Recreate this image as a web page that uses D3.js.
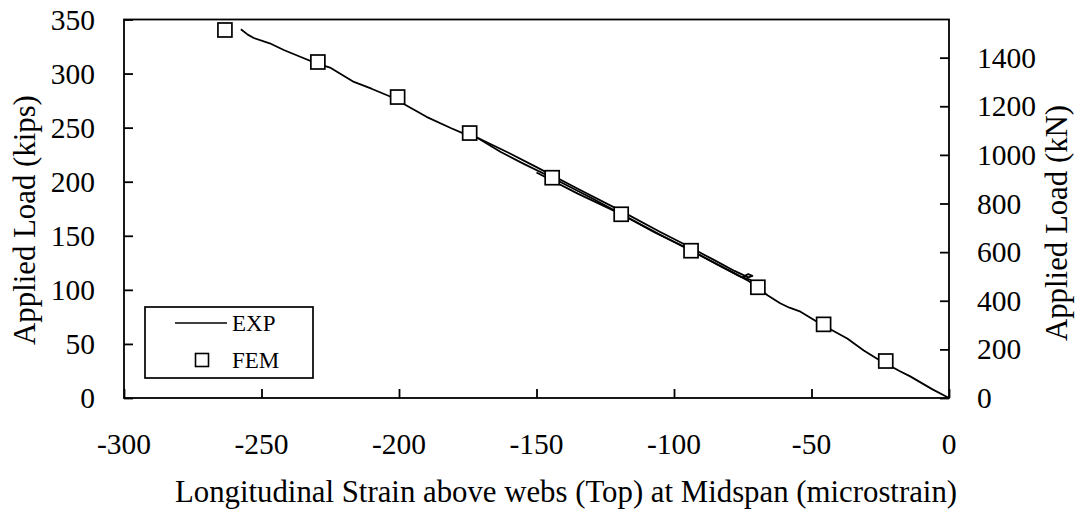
<!DOCTYPE html>
<html>
<head>
<meta charset="utf-8">
<script src="https://cdn.jsdelivr.net/npm/d3@7"></script>
<style>
  body { margin: 0; background: #fff; }
  svg { display: block; }
</style>
</head>
<body>
<svg id="chart" width="1075" height="512"></svg>
<script>
// strain (microstrain), load (kips)
const expMain = [
  [0, 0], [-6, 8], [-14.1, 20], [-18, 25], [-22, 30.5], [-26, 36], [-31, 44],
  [-37, 55], [-42, 62], [-48, 70.5], [-54, 79.8], [-58, 83.5], [-61.4, 87.6],
  [-66, 95], [-70, 103], [-73.4, 109], [-80, 118], [-93.8, 136.2], [-105, 151],
  [-119.2, 170], [-130, 185], [-144.3, 203.7], [-155, 217], [-163, 227.5],
  [-171.4, 240.4], [-176, 244], [-181.2, 249.7], [-190, 260], [-197.6, 271],
  [-203, 278.6], [-210, 286], [-216.4, 292.3], [-224.8, 305.2], [-230, 309.5],
  [-235.7, 315.3], [-241.9, 321.8], [-247, 328], [-252.8, 332.9], [-255, 336],
  [-257.5, 341]
];
const expCycleA = [
  [-175, 245], [-160, 226.5], [-150, 213.5], [-135, 193.5], [-120, 174],
  [-105, 153.5], [-95, 140.5], [-85, 127], [-78, 117.5], [-73, 111.5],
  [-71.5, 113], [-73, 114.5], [-75, 112]
];
const expCycleB = [
  [-150, 208.5], [-135, 189], [-120, 171], [-107, 153], [-94, 137],
  [-84, 123], [-76, 112.5], [-72, 109]
];
const femStrain = [-23, -45.6, -69.5, -93.8, -119.2, -144.3, -174.3, -200.5, -229.5, -263.3];
const femLoad = [34.2, 68.1, 102.4, 136.2, 169.9, 203.7, 245, 278.3, 310.7, 340.3];

const xTicks = [-300, -250, -200, -150, -100, -50, 0];
const kipsTicks = [0, 50, 100, 150, 200, 250, 300, 350];
const knTicks = [0, 200, 400, 600, 800, 1000, 1200, 1400];
const kipToKn = 4.448222;

const svg = d3.select("#chart");
const serif = "Liberation Serif";
const plotL = 124, plotR = 949, plotT = 19.5, plotB = 398;

const x = d3.scaleLinear().domain([-300, 0]).range([plotL, plotR]);
const y = d3.scaleLinear().domain([0, 350]).range([plotB, plotT]);
const yKn = d3.scaleLinear().domain([0, 350 * kipToKn]).range([plotB, plotT]);

const fs = 29.5;
const fsTitle = 30.8;

// frame
svg.append("rect")
  .attr("x", plotL).attr("y", plotT)
  .attr("width", plotR - plotL).attr("height", plotB - plotT)
  .attr("fill", "none").attr("stroke", "#000").attr("stroke-width", 1.8);

// axes with inward ticks
const xAxis = svg.append("g").attr("transform", `translate(0,${plotB})`)
  .call(d3.axisTop(x).tickValues(xTicks).tickSize(9).tickFormat(""));
const yAxis = svg.append("g").attr("transform", `translate(${plotL},0)`)
  .call(d3.axisRight(y).tickValues(kipsTicks).tickSize(9).tickFormat(""));
const yAxisR = svg.append("g").attr("transform", `translate(${plotR},0)`)
  .call(d3.axisLeft(yKn).tickValues(knTicks).tickSize(9).tickFormat(""));
[xAxis, yAxis, yAxisR].forEach((g) => {
  g.select(".domain").remove();
  g.selectAll("line").attr("stroke", "#000").attr("stroke-width", 1.8);
});

// tick labels
svg.selectAll(".xlab").data(xTicks).join("text")
  .attr("x", (d) => x(d)).attr("y", 454)
  .attr("text-anchor", "middle").attr("font-size", fs)
  .text((d) => d);
svg.selectAll(".ylab").data(kipsTicks).join("text")
  .attr("x", 95).attr("y", (d) => y(d))
  .attr("dy", "0.34em").attr("text-anchor", "end").attr("font-size", fs)
  .text((d) => d);
svg.selectAll(".yrlab").data(knTicks).join("text")
  .attr("x", 977).attr("y", (d) => yKn(d))
  .attr("dy", "0.34em").attr("text-anchor", "start").attr("font-size", fs)
  .text((d) => d);

// axis titles
svg.append("text")
  .attr("transform", "translate(25,220) rotate(-90)")
  .attr("text-anchor", "middle").attr("dominant-baseline", "central")
  .attr("font-size", fsTitle).text("Applied Load (kips)");
svg.append("text")
  .attr("transform", "translate(1057,223) rotate(-90)")
  .attr("text-anchor", "middle").attr("dominant-baseline", "central")
  .attr("font-size", fsTitle).text("Applied Load (kN)");
svg.append("text")
  .attr("x", 566).attr("y", 502)
  .attr("text-anchor", "middle").attr("font-size", fsTitle)
  .text("Longitudinal Strain above webs (Top) at Midspan (microstrain)");

// EXP curves
const line = d3.line().x((d) => x(d[0])).y((d) => y(d[1]));
[expMain, expCycleA, expCycleB].forEach((s) => {
  svg.append("path").datum(s)
    .attr("d", line).attr("fill", "none")
    .attr("stroke", "#000").attr("stroke-width", 1.8)
    .attr("stroke-linejoin", "round");
});

// FEM markers
const sq = 14;
svg.selectAll(".fem").data(femStrain).join("rect")
  .attr("x", (d) => x(d) - sq / 2)
  .attr("y", (d, i) => y(femLoad[i]) - sq / 2)
  .attr("width", sq).attr("height", sq)
  .attr("fill", "#fff").attr("stroke", "#000").attr("stroke-width", 1.7);

// legend
const lg = svg.append("g");
lg.append("rect").attr("x", 145).attr("y", 307).attr("width", 168).attr("height", 71)
  .attr("fill", "#fff").attr("stroke", "#000").attr("stroke-width", 1.7);
lg.append("line").attr("x1", 175).attr("x2", 227).attr("y1", 323).attr("y2", 323)
  .attr("stroke", "#000").attr("stroke-width", 1.6);
lg.append("text").attr("x", 232).attr("y", 331).attr("font-size", 23).text("EXP");
lg.append("rect").attr("x", 195.5).attr("y", 353.5).attr("width", 13).attr("height", 13)
  .attr("fill", "#fff").attr("stroke", "#000").attr("stroke-width", 1.6);
lg.append("text").attr("x", 232).attr("y", 368).attr("font-size", 23).text("FEM");

svg.selectAll("text").attr("font-family", serif).attr("fill", "#000");
</script>
</body>
</html>
